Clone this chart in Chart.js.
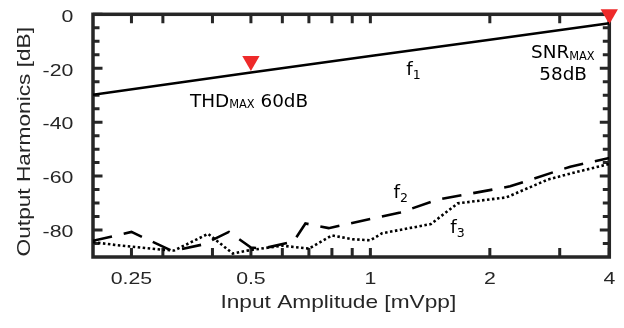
<!DOCTYPE html>
<html>
<head>
<meta charset="utf-8">
<script src="https://cdn.jsdelivr.net/npm/chart.js@4/dist/chart.umd.min.js"></script>
<style>
  html, body { margin: 0; padding: 0; background: #ffffff; }
  canvas { display: block; }
</style>
</head>
<body>
<canvas id="c" width="624" height="328"></canvas>
<script>
// ---- data ----
const f1X = [0.2, 0.5, 1, 2, 4];
const f1Y = [-29.8, -21.6, -15.5, -9.4, -3.3];

const f2X = [0.2, 0.25, 0.317, 0.38, 0.44, 0.5, 0.534, 0.64, 0.686, 0.727, 0.785, 1.19, 1.47, 2.25, 3.19, 4];
const f2Y = [-84, -80.7, -87.8, -85.3, -80.7, -86.5, -86.9, -84.3, -77.6, -78.3, -79.3, -73.5, -68.8, -63.8, -56.5, -53.3];

const f3X = [0.2, 0.23, 0.3, 0.32, 0.35, 0.39, 0.45, 0.5, 0.53, 0.6, 0.7, 0.8, 0.9, 1.0, 1.07, 1.42, 1.66, 2.2, 2.8, 3.2, 4];
const f3Y = [-84.5, -85.6, -87.3, -87.6, -84.8, -81.4, -88.7, -87.4, -86.9, -85.8, -86.9, -82.0, -83.4, -83.8, -81.2, -77.8, -70.1, -67.9, -61.3, -59, -55.5];

const markerX = [0.5, 4];
const markerY = [-17.3, 0];

const xTickValues = [0.25, 0.3, 0.4, 0.5, 0.6, 0.7, 0.8, 0.9, 1, 2, 3, 4];
const xLabelValues = [0.25, 0.5, 1, 2, 4];
const xLabelTexts = ['0.25', '0.5', '1', '2', '4'];
const yMajorTicks = [0, -20, -40, -60, -80];
const yMinorTicks = [-5, -10, -15, -25, -30, -35, -45, -50, -55, -65, -70, -75, -85];
const yLabelTexts = ['0', '-20', '-40', '-60', '-80'];

const xTitle = 'Input Amplitude [mVpp]';
const yTitle = 'Output Harmonics [dB]';

// annotation anchors in data units
const notes = [
  { x: 0.351, y: -34.3, parts: [['THD', 0], ['MAX', 1], [' 60dB', 0]], align: 'left' },
  { x: 1.231, y: -22.6, parts: [['f', 0], ['1', 2]], align: 'left' },
  { x: 2.54, y: -16.3, parts: [['SNR', 0], ['MAX', 1]], align: 'left' },
  { x: 3.06, y: -24.4, parts: [['58dB', 0]], align: 'center' },
  { x: 1.143, y: -68.2, parts: [['f', 0], ['2', 2]], align: 'left' },
  { x: 1.589, y: -81.2, parts: [['f', 0], ['3', 2]], align: 'left' }
];

const toPts = (xs, ys) => xs.map((x, i) => ({ x: x, y: ys[i] }));

const AXIS_COLOR = '#262626';

function stretchedText(ctx, s, x, y, font, align, sx, color) {
  ctx.save();
  ctx.translate(x, y);
  ctx.scale(sx, 1);
  ctx.font = font;
  ctx.textAlign = align;
  ctx.textBaseline = 'alphabetic';
  ctx.fillStyle = color;
  ctx.fillText(s, 0, 0);
  ctx.restore();
}

const framePlugin = {
  id: 'frame',
  beforeDatasetsDraw(chart) {
    const ctx = chart.ctx;
    const { left, right, top, bottom } = chart.chartArea;
    const xs = chart.scales.x, ys = chart.scales.y;
    ctx.save();
    ctx.strokeStyle = AXIS_COLOR;
    ctx.lineCap = 'butt';
    ctx.lineWidth = 3;
    ctx.beginPath();
    xTickValues.forEach(v => {
      const px = xs.getPixelForValue(v);
      ctx.moveTo(px, bottom); ctx.lineTo(px, bottom - 9);
      ctx.moveTo(px, top); ctx.lineTo(px, top + 9);
    });
    yMajorTicks.forEach(v => {
      const py = ys.getPixelForValue(v);
      ctx.moveTo(left, py); ctx.lineTo(left + 9.5, py);
      ctx.moveTo(right, py); ctx.lineTo(right - 9.5, py);
    });
    yMinorTicks.forEach(v => {
      const py = ys.getPixelForValue(v);
      ctx.moveTo(left, py); ctx.lineTo(left + 6.5, py);
      ctx.moveTo(right, py); ctx.lineTo(right - 6.5, py);
    });
    ctx.stroke();
    ctx.lineWidth = 3.5;
    ctx.strokeRect(left, top, right - left, bottom - top);
    ctx.restore();
  },
  afterDraw(chart) {
    const ctx = chart.ctx;
    const xs = chart.scales.x, ys = chart.scales.y;
    const tickFont = '16px "Liberation Sans", Arial, sans-serif';
    // x tick labels
    xLabelValues.forEach((v, i) => {
      stretchedText(ctx, xLabelTexts[i], xs.getPixelForValue(v), 284, tickFont, 'center', 1.33, AXIS_COLOR);
    });
    // y tick labels
    yMajorTicks.forEach((v, i) => {
      stretchedText(ctx, yLabelTexts[i], 73.3, ys.getPixelForValue(v) + 7.3, tickFont, 'right', 1.33, AXIS_COLOR);
    });
    // axis titles
    const titleFont = '18.6px "Liberation Sans", Arial, sans-serif';
    stretchedText(ctx, xTitle, 338.3, 307.5, titleFont, 'center', 1.22, AXIS_COLOR);
    ctx.save();
    ctx.translate(29.5, 141.7);
    ctx.rotate(-Math.PI / 2);
    ctx.scale(1.22, 1);
    ctx.font = titleFont;
    ctx.textAlign = 'center';
    ctx.textBaseline = 'alphabetic';
    ctx.fillStyle = AXIS_COLOR;
    ctx.fillText(yTitle, 0, 0);
    ctx.restore();

    // annotations
    const mainFont = '18.4px "DejaVu Sans", sans-serif';
    const subFont = '11.4px "DejaVu Sans", sans-serif';
    const digitSubFont = '12.5px "DejaVu Sans", sans-serif';
    const fontFor = k => k === 0 ? mainFont : (k === 1 ? subFont : digitSubFont);
    const dyFor = k => k === 0 ? 0 : (k === 1 ? 1.7 : 4);
    ctx.save();
    ctx.fillStyle = '#000';
    ctx.textBaseline = 'alphabetic';
    ctx.textAlign = 'left';
    notes.forEach(n => {
      let total = 0;
      n.parts.forEach(p => { ctx.font = fontFor(p[1]); total += ctx.measureText(p[0]).width; });
      let px = xs.getPixelForValue(n.x);
      const py = ys.getPixelForValue(n.y);
      if (n.align === 'center') px -= total / 2;
      n.parts.forEach(p => {
        ctx.font = fontFor(p[1]);
        ctx.fillText(p[0], px, py + dyFor(p[1]));
        px += ctx.measureText(p[0]).width;
      });
    });
    ctx.restore();
  }
};

new Chart(document.getElementById('c'), {
  type: 'line',
  data: {
    datasets: [
      { label: 'f1', data: toPts(f1X, f1Y), borderColor: '#000', borderWidth: 2.5, pointRadius: 0, tension: 0, fill: false },
      { label: 'f2', data: toPts(f2X, f2Y), borderColor: '#000', borderWidth: 2.6, borderDash: [19.5, 12], pointRadius: 0, tension: 0, fill: false },
      { label: 'f3', data: toPts(f3X, f3Y), borderColor: '#000', borderWidth: 2.6, borderDash: [2.5, 2.5], pointRadius: 0, tension: 0, fill: false },
      { label: 'max', data: toPts(markerX, markerY), showLine: false, pointStyle: 'triangle', rotation: 180,
        pointRadius: 10, pointBackgroundColor: '#ee2a2a', pointBorderColor: '#ee2a2a', pointBorderWidth: 0, clip: false }
    ]
  },
  options: {
    responsive: false,
    animation: false,
    events: [],
    layout: { padding: { left: 0, right: 14.7, top: 14.3, bottom: 0 } },
    plugins: { legend: { display: false }, tooltip: { enabled: false } },
    scales: {
      x: { type: 'logarithmic', min: 0.2, max: 4,
           ticks: { display: false }, grid: { display: false }, border: { display: false },
           afterFit(s) { s.height = 71; } },
      y: { type: 'linear', min: -90, max: 0,
           ticks: { display: false }, grid: { display: false }, border: { display: false },
           afterFit(s) { s.width = 93; } }
    }
  },
  plugins: [framePlugin]
});
</script>
</body>
</html>
